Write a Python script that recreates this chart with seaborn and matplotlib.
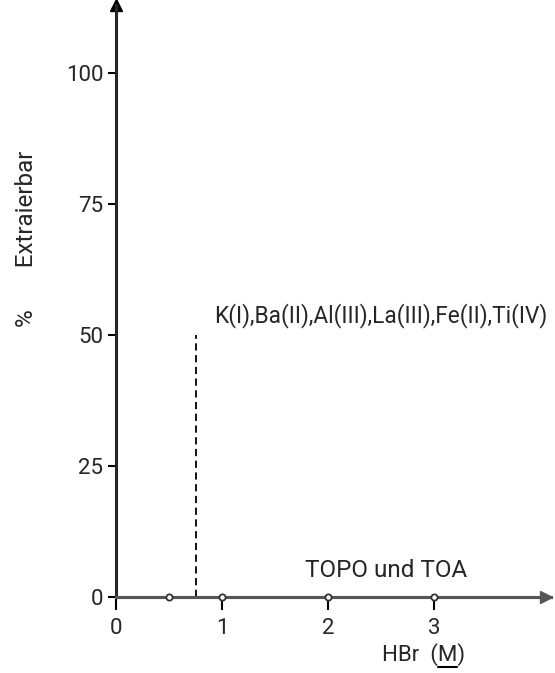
import numpy as np
import pandas as pd
import matplotlib
matplotlib.use("Agg")
import matplotlib.pyplot as plt
import seaborn as sns

# datos
hbr = [0.0, 0.5, 1.0, 2.0, 3.0, 4.05]
extr = [0.0, 0.0, 0.0, 0.0, 0.0, 0.0]
marcas = [0.5, 1.0, 2.0, 3.0]
x_corte = [0.75, 0.75]
y_corte = [0.0, 50.0]
xticks = [0, 1, 2, 3]
yticks = [0, 25, 50, 75, 100]

sns.set_style("ticks")
plt.rcParams['font.family'] = ['Roboto', 'DejaVu Sans']

fig = plt.figure(figsize=(5.55, 6.73), dpi=100)
ax = fig.add_axes([0.209, 0.113, 0.784, 0.880])

df = pd.DataFrame({'x': hbr, 'y': extr})
sns.lineplot(x='x', y='y', data=df, ax=ax, color='#555555', lw=2.2, clip_on=False)
ax.plot(marcas, [0] * len(marcas), 'o', ms=4.5, mfc='white', mec='#333333', mew=1.3,
        clip_on=False, zorder=5)
ax.plot([hbr[-1]], [0], '>', ms=9, color='#555555', clip_on=False, zorder=5)

ax.plot(x_corte, y_corte, ls=(0, (4, 2.5)), color='black', lw=1.3)

ax.set_xlim(0, 4.1)
ax.set_ylim(0, 113)
ax.set_xticks(xticks)
ax.set_yticks(yticks)
ax.tick_params(labelsize=16, length=6, width=1.5, color='black', pad=3)
ax.tick_params(axis='x', length=9, pad=6)

for s in ['top', 'right']:
    ax.spines[s].set_visible(False)
ax.spines['left'].set_linewidth(2.2)
ax.spines['bottom'].set_linewidth(2.2)
ax.spines['bottom'].set_color('#555555')
ax.plot([0], [1.0], '^', ms=9, color='black', transform=ax.transAxes, clip_on=False)

ax.text(0.92, 53.6, 'K(I),Ba(II),Al(III),La(III),Fe(II),Ti(IV)', fontsize=16.3,
        va='center', ha='left')
ax.text(1.78, 5.0, 'TOPO und TOA', fontsize=17.5, va='center', ha='left')

# etiqueta x con la M subrayada
ax.set_xlabel('')
lab = ax.text(0.706, -0.097, 'HBr  (M)', fontsize=16, ha='center', va='center',
              transform=ax.transAxes)
ax.set_ylabel('%       Extraierbar', fontsize=17.5)
ax.yaxis.set_label_coords(-0.18, 0.605)

fig.canvas.draw()
r = fig.canvas.get_renderer()
bb = lab.get_window_extent(r)
m_t = ax.text(0, 0, 'M)', fontsize=16)
p_t = ax.text(0, 0, ')', fontsize=16)
wm = m_t.get_window_extent(r).width
wp = p_t.get_window_extent(r).width
m_t.remove()
p_t.remove()
x1 = bb.x1 - wp
x0 = bb.x1 - wm
inv = fig.transFigure.inverted()
(fx0, fy), (fx1, _) = inv.transform([(x0, bb.y0 - 1), (x1, bb.y0 - 1)])
fig.add_artist(plt.Line2D([fx0, fx1], [fy, fy], color='black', lw=1.5))

fig.savefig('out.png', dpi=100)
